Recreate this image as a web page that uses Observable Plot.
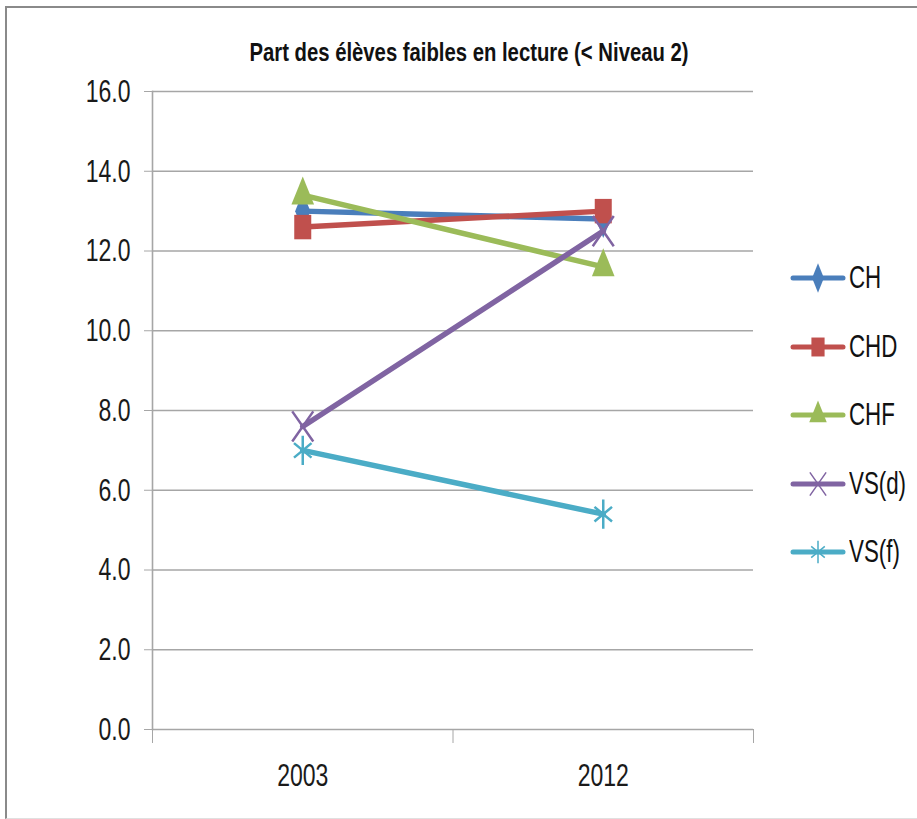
<!DOCTYPE html>
<html><head><meta charset="utf-8">
<script src="https://cdn.jsdelivr.net/npm/d3@7"></script>
<script src="https://cdn.jsdelivr.net/npm/@observablehq/plot@0.6"></script>
<style>
body{margin:0;background:#fff;}
#wrap{position:relative;width:917px;height:819px;overflow:hidden;background:#fff;font-family:"Liberation Sans",Arial,sans-serif;}
#chart{position:absolute;left:0;top:0;}
#frame{position:absolute;left:5px;top:6px;width:940px;height:810px;border-top:2px solid #8a8a8a;border-left:2px solid #8a8a8a;border-bottom:1px solid #e0e0e0;}
#title{position:absolute;left:0;top:37px;width:938px;text-align:center;font-weight:bold;font-size:26px;color:#111;white-space:nowrap;transform:scaleX(0.78);transform-origin:469px 0;}
.li{position:absolute;left:790px;height:30px;display:flex;align-items:center;font-size:31px;color:#111;}
.li svg{display:block;margin-right:3px;}
.li span{display:inline-block;transform:scaleX(0.72);transform-origin:0 50%;white-space:nowrap;}
</style></head><body>
<div id="wrap"><div id="chart"></div><div id="frame"></div><div id="title"></div><div id="legend"></div></div>
<script>
const title = "Part des élèves faibles en lecture (< Niveau 2)";
const years = ["2003", "2012"];
const seriesNames = ["CH", "CHD", "CHF", "VS(d)", "VS(f)"];
const CH   = [13.0, 12.8];
const CHD  = [12.6, 13.0];
const CHF  = [13.4, 11.6];
const VSd  = [7.6, 12.5];
const VSf  = [7.0, 5.4];
const yTicks = [0, 2, 4, 6, 8, 10, 12, 14, 16];
const colors = ["#4A7EBB", "#C0504D", "#9BBB59", "#8064A2", "#4BACC6"];
const symbolNames = ["diamond", "square", "triangle", "times", "asterisk"];
const symR = [10, 12, 10.5, 12, 12];
const filled = [true, true, true, false, false];

// stretched (narrow/tall) versions of the d3 symbols, like the reference
const SX = 0.8, SY = 1.15;
const baseSym = {diamond: d3.symbolDiamond, square: d3.symbolSquare, triangle: d3.symbolTriangle, times: d3.symbolTimes, asterisk: d3.symbolAsterisk};
function stretched(base) {
  return {draw(ctx, size) {
    const proxy = {
      moveTo: (x, y) => ctx.moveTo(x * SX, y * SY),
      lineTo: (x, y) => ctx.lineTo(x * SX, y * SY),
      closePath: () => ctx.closePath(),
      rect: (x, y, w, h) => {
        ctx.moveTo(x * SX, y * SY);
        ctx.lineTo((x + w) * SX, y * SY);
        ctx.lineTo((x + w) * SX, (y + h) * SY);
        ctx.lineTo(x * SX, (y + h) * SY);
        ctx.closePath();
      }
    };
    base.draw(proxy, size);
  }};
}
const symObjs = symbolNames.map(n => stretched(baseSym[n]));

const values = [CH, CHD, CHF, VSd, VSf];
const rows = [];
values.forEach((vals, s) => vals.forEach((v, i) => rows.push({series: seriesNames[s], s, x: i + 0.5, y: v})));

document.getElementById("title").textContent = title;

const marks = [
  Plot.ruleY(yTicks, {stroke: "#a6a6a6", strokeWidth: 1.6}),
  Plot.frame({anchor: "left", stroke: "#a6a6a6", strokeWidth: 1.6}),
  Plot.axisY({ticks: yTicks, tickFormat: d => d.toFixed(1), tickSize: 8, tickPadding: 14, fontSize: 32, stroke: "#a6a6a6", fill: "#1a1a1a", label: null}),
  Plot.axisX({ticks: [0, 1, 2], tickFormat: () => "", tickSize: 14, stroke: "#a6a6a6", label: null}),
  Plot.axisX({ticks: years.map((_, i) => i + 0.5), tickFormat: d => years[Math.floor(d)], tickSize: 0, tickPadding: 34, fontSize: 32, fill: "#1a1a1a", label: null})
];
seriesNames.forEach((name, s) => {
  const d = rows.filter(r => r.s === s);
  marks.push(Plot.line(d, {x: "x", y: "y", stroke: colors[s], strokeWidth: 5.5, strokeLinecap: "round"}));
  marks.push(Plot.dot(d, filled[s]
    ? {x: "x", y: "y", symbol: () => symObjs[s], r: symR[s], fill: colors[s], stroke: "none"}
    : {x: "x", y: "y", symbol: () => symObjs[s], r: symR[s], fill: "none", stroke: colors[s], strokeWidth: 2.5}));
});

const chart = Plot.plot({
  width: 917, height: 819,
  marginLeft: 152, marginRight: 164, marginTop: 91, marginBottom: 90,
  style: {fontFamily: '"Liberation Sans",Arial,sans-serif', background: "transparent", overflow: "visible"},
  x: {type: "linear", domain: [0, 2], axis: null},
  y: {domain: [0, 16], axis: null},
  symbol: {type: "identity"},
  marks
});
document.getElementById("chart").appendChild(chart);
// condense the axis texts horizontally (narrow font look) without moving their anchors
chart.querySelectorAll("text").forEach(el => {
  if (!el.textContent) return;
  const len = el.getComputedTextLength();
  if (len > 0) {
    el.setAttribute("textLength", (len * 0.72).toFixed(2));
    el.setAttribute("lengthAdjust", "spacingAndGlyphs");
  }
});

// legend
const legend = document.getElementById("legend");
seriesNames.forEach((name, s) => {
  const item = document.createElement("div");
  item.className = "li";
  item.style.top = (263 + s * 68.5) + "px";
  const svg = d3.create("svg").attr("width", 56).attr("height", 30);
  svg.append("line").attr("x1", 3).attr("x2", 53).attr("y1", 15).attr("y2", 15)
    .attr("stroke", colors[s]).attr("stroke-width", 5).attr("stroke-linecap", "round");
  const p = svg.append("path").attr("transform", "translate(28,15)")
    .attr("d", d3.symbol(symObjs[s], Math.PI * symR[s] * symR[s] * 0.6)());
  if (filled[s]) p.attr("fill", colors[s]); else p.attr("fill", "none").attr("stroke", colors[s]).attr("stroke-width", 1.5);
  item.appendChild(svg.node());
  const t = document.createElement("span");
  t.textContent = name;
  item.appendChild(t);
  legend.appendChild(item);
});
</script>
</body></html>
